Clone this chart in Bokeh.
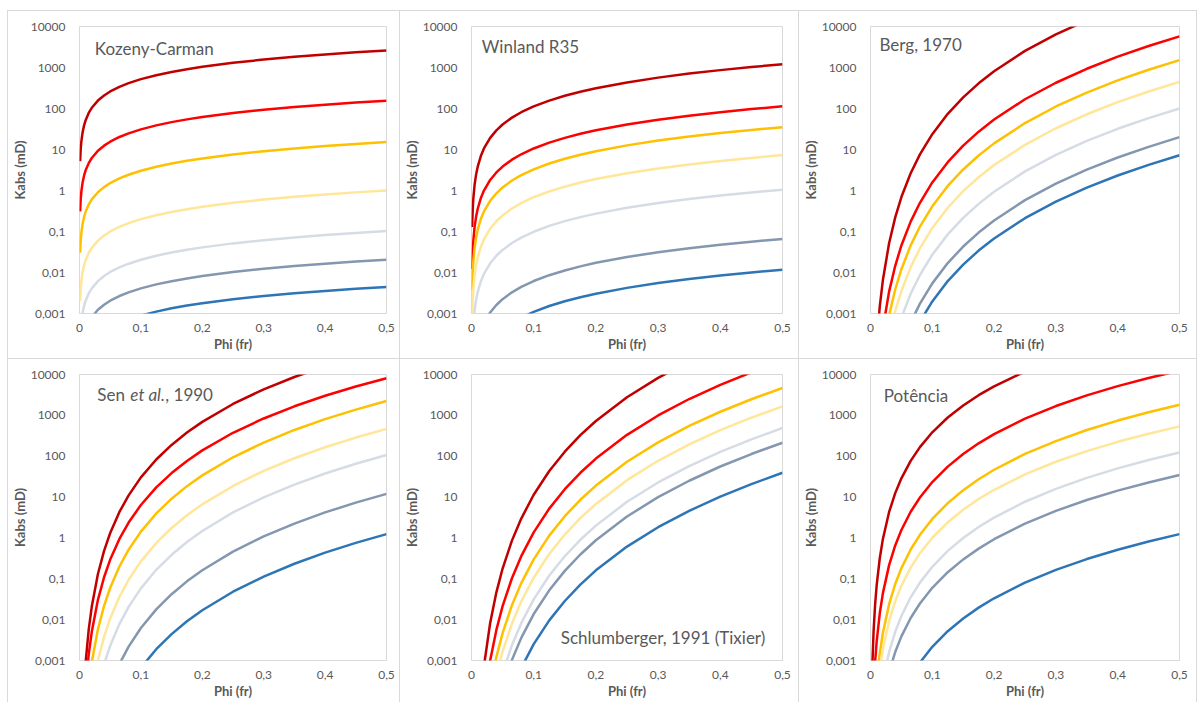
from bokeh.plotting import figure
from bokeh.models import Range1d, FixedTicker, Label
from bokeh.layouts import row, column
from bokeh.embed import file_html
from bokeh.resources import INLINE

# ---------------- data ----------------
PHI = [0.001, 0.002, 0.003, 0.005, 0.0075, 0.01, 0.015, 0.02, 0.03, 0.04, 0.05, 0.065,
       0.08, 0.1, 0.125, 0.15, 0.175, 0.2, 0.25, 0.3, 0.35, 0.4, 0.45, 0.5]

X_TICKS = [0, 0.1, 0.2, 0.3, 0.4, 0.5]
X_TICK_LABELS = ["0", "0,1", "0,2", "0,3", "0,4", "0,5"]
Y_TICKS = [0.001, 0.01, 0.1, 1, 10, 100, 1000, 10000]
Y_TICK_LABELS = ["0,001", "0,01", "0,1", "1", "10", "100", "1000", "10000"]

# Kozeny-Carman
kc1 = [5.2, 10.4, 15.6, 26, 39, 52, 78, 104, 156, 208, 260, 338, 416, 520, 650, 780, 910, 1040, 1300, 1560, 1820, 2080, 2340, 2600]
kc2 = [0.31, 0.62, 0.93, 1.55, 2.33, 3.1, 4.65, 6.2, 9.3, 12.4, 15.5, 20.2, 24.8, 31, 38.8, 46.5, 54.3, 62, 77.5, 93, 108.5, 124, 139.5, 155]
kc3 = [0.0303, 0.0606, 0.0909, 0.152, 0.227, 0.303, 0.455, 0.606, 0.909, 1.21, 1.52, 1.97, 2.42, 3.03, 3.79, 4.55, 5.3, 6.06, 7.58, 9.09, 10.6, 12.1, 13.6, 15.2]
kc4 = [0.002, 0.004, 0.006, 0.01, 0.015, 0.02, 0.03, 0.04, 0.06, 0.08, 0.1, 0.13, 0.16, 0.2, 0.25, 0.3, 0.35, 0.4, 0.5, 0.6, 0.7, 0.8, 0.9, 1.0]
kc5 = [0.000205, 0.00041, 0.000615, 0.00103, 0.00154, 0.00205, 0.00308, 0.0041, 0.00615, 0.0082, 0.0103, 0.0133, 0.0164, 0.0205, 0.0256, 0.0308, 0.0359, 0.041, 0.0513, 0.0615, 0.0718, 0.082, 0.0923, 0.1025]
kc6 = [4.1e-5, 8.2e-5, 1.23e-4, 2.05e-4, 3.08e-4, 4.1e-4, 6.15e-4, 8.2e-4, 0.00123, 0.00164, 0.00205, 0.00267, 0.00328, 0.0041, 0.00513, 0.00615, 0.00718, 0.0082, 0.0103, 0.0123, 0.0144, 0.0164, 0.0185, 0.0205]
kc7 = [8.9e-6, 1.78e-5, 2.67e-5, 4.45e-5, 6.68e-5, 8.9e-5, 1.34e-4, 1.78e-4, 2.67e-4, 3.56e-4, 4.45e-4, 5.79e-4, 7.12e-4, 8.9e-4, 0.00111, 0.00134, 0.00156, 0.00178, 0.00223, 0.00267, 0.00312, 0.00356, 0.00401, 0.00445]

# Winland R35
wl1 = [0.129, 0.358, 0.65, 1.38, 2.5, 3.81, 6.92, 10.6, 19.2, 29.3, 40.7, 59.9, 81.1, 113, 156, 204, 257, 312, 433, 566, 710, 863, 1026, 1200]
wl2 = [0.0122, 0.0337, 0.0612, 0.13, 0.235, 0.359, 0.652, 0.996, 1.81, 2.76, 3.83, 5.64, 7.64, 10.6, 14.7, 19.2, 24.2, 29.4, 40.8, 53.3, 66.9, 81.2, 96.6, 113]
wl3 = [0.00377, 0.0104, 0.019, 0.0402, 0.0729, 0.111, 0.202, 0.308, 0.56, 0.854, 1.19, 1.75, 2.37, 3.28, 4.55, 5.95, 7.48, 9.1, 12.6, 16.5, 20.7, 25.2, 29.9, 35]
wl4 = [7.85e-4, 0.00218, 0.00396, 0.00838, 0.0152, 0.0232, 0.0421, 0.0643, 0.117, 0.178, 0.247, 0.364, 0.493, 0.685, 0.949, 1.24, 1.56, 1.9, 2.64, 3.45, 4.32, 5.25, 6.24, 7.3]
wl5 = [1.13e-4, 3.13e-4, 5.69e-4, 0.00121, 0.00219, 0.00334, 0.00606, 0.00925, 0.0168, 0.0256, 0.0356, 0.0524, 0.071, 0.0985, 0.137, 0.179, 0.224, 0.273, 0.379, 0.496, 0.622, 0.755, 0.898, 1.05]
wl6 = [7.1e-6, 1.97e-5, 3.58e-5, 7.58e-5, 1.38e-4, 2.1e-4, 3.81e-4, 5.81e-4, 0.00106, 0.00161, 0.00224, 0.00329, 0.00446, 0.00619, 0.0086, 0.0112, 0.0141, 0.0172, 0.0238, 0.0312, 0.0391, 0.0475, 0.0564, 0.066]
wl7 = [1.26e-6, 3.49e-6, 6.34e-6, 1.34e-5, 2.44e-5, 3.72e-5, 6.75e-5, 1.03e-4, 1.87e-4, 2.85e-4, 3.97e-4, 5.84e-4, 7.91e-4, 0.0011, 0.00152, 0.00199, 0.0025, 0.00304, 0.00422, 0.00552, 0.00693, 0.00841, 0.01, 0.0117]

# Berg, 1970
bg1 = [1.5e-9, 5.1e-8, 4.1e-7, 5.5e-6, 4.3e-5, 1.88e-4, 1.49e-3, 6.46e-3, 0.051, 0.221, 0.692, 2.64, 7.59, 23.7, 74.1, 187, 411, 813, 2541, 6427, 14090, 27860, 50700, 87100]
bg2 = [9.9e-11, 3.4e-9, 2.7e-8, 3.6e-7, 2.9e-6, 1.24e-5, 9.8e-5, 4.27e-4, 3.37e-3, 0.0146, 0.0457, 0.174, 0.501, 1.57, 4.9, 12.4, 27.2, 53.7, 168, 425, 931, 1841, 3350, 5754]
bg3 = [2.6e-11, 8.9e-10, 7.0e-9, 9.5e-8, 7.6e-7, 3.3e-6, 2.6e-5, 1.12e-4, 8.9e-4, 3.85e-3, 0.012, 0.0458, 0.132, 0.412, 1.29, 3.26, 7.14, 14.1, 44.2, 112, 245, 484, 881, 1514]
bg4 = [7.7e-12, 2.6e-10, 2.1e-9, 2.8e-8, 2.2e-7, 9.7e-7, 7.6e-6, 3.3e-5, 2.62e-4, 1.14e-3, 3.55e-3, 0.0135, 0.0389, 0.122, 0.38, 0.962, 2.11, 4.17, 13.0, 33.0, 72.3, 143, 260, 447]
bg5 = [1.7e-12, 5.9e-11, 4.7e-10, 6.3e-9, 5.0e-8, 2.2e-7, 1.7e-6, 7.4e-6, 5.9e-5, 2.54e-4, 7.9e-4, 3.03e-3, 8.7e-3, 0.0272, 0.0851, 0.215, 0.472, 0.933, 2.92, 7.38, 16.2, 32.0, 58.2, 100]
bg6 = [3.4e-13, 1.2e-11, 9.3e-11, 1.26e-9, 1.0e-8, 4.3e-8, 3.4e-7, 1.48e-6, 1.17e-5, 5.07e-5, 1.58e-4, 6.04e-4, 1.74e-3, 5.43e-3, 0.017, 0.043, 0.0942, 0.186, 0.582, 1.47, 3.23, 6.38, 11.6, 20]
bg7 = [1.2e-13, 4.3e-12, 3.4e-11, 4.6e-10, 3.6e-9, 1.57e-8, 1.24e-7, 5.4e-7, 4.2e-6, 1.84e-5, 5.75e-5, 2.19e-4, 6.31e-4, 1.97e-3, 6.17e-3, 0.0156, 0.0342, 0.0676, 0.211, 0.535, 1.17, 2.32, 4.22, 7.24]

# Sen et al., 1990
sn1 = [2.8e-8, 6.3e-7, 4.0e-6, 4.0e-5, 2.49e-4, 9.1e-4, 5.7e-3, 0.0209, 0.131, 0.481, 1.32, 4.32, 11.0, 30.3, 83, 189, 379, 693, 1901, 4335, 8690, 15900, 27000, 43600]
sn2 = [8.4e-9, 1.83e-7, 1.11e-6, 1.07e-5, 6.5e-5, 2.32e-4, 1.41e-3, 5.05e-3, 0.0305, 0.109, 0.295, 0.946, 2.38, 6.4, 17.3, 38.7, 76.7, 139, 375, 839, 1667, 3013, 5082, 8128]
sn3 = [1.04e-9, 2.46e-8, 1.57e-7, 1.62e-6, 1.03e-5, 3.85e-5, 2.45e-4, 9.1e-4, 5.82e-3, 0.0217, 0.0603, 0.2, 0.515, 1.43, 3.97, 9.12, 18.5, 34, 94.2, 216, 439, 807, 1380, 2239]
sn4 = [1.4e-10, 3.5e-9, 2.3e-8, 2.45e-7, 1.61e-6, 6.1e-6, 4.0e-5, 1.52e-4, 1.0e-3, 3.8e-3, 0.0107, 0.0362, 0.0948, 0.267, 0.753, 1.75, 3.58, 6.65, 18.7, 43.7, 89.3, 166, 286, 468]
sn5 = [2.7e-11, 6.8e-10, 4.5e-9, 4.9e-8, 3.25e-7, 1.25e-6, 8.3e-6, 3.17e-5, 2.1e-4, 8.1e-4, 2.29e-3, 7.8e-3, 0.0206, 0.0583, 0.166, 0.387, 0.794, 1.48, 4.21, 9.84, 20.2, 37.8, 65.3, 107]
sn6 = [2.5e-12, 6.4e-11, 4.3e-10, 4.8e-9, 3.2e-8, 1.24e-7, 8.4e-7, 3.2e-6, 2.17e-5, 8.4e-5, 2.4e-4, 8.2e-4, 2.18e-3, 6.24e-3, 0.0178, 0.0419, 0.0865, 0.162, 0.462, 1.09, 2.24, 4.21, 7.31, 12.0]
sn7 = [2.9e-13, 7.4e-12, 4.9e-11, 5.4e-10, 3.6e-9, 1.39e-8, 9.2e-8, 3.5e-7, 2.37e-6, 9.1e-6, 2.59e-5, 8.9e-5, 2.33e-4, 6.64e-4, 1.89e-3, 4.42e-3, 0.0091, 0.017, 0.0483, 0.113, 0.233, 0.436, 0.755, 1.24]

# Schlumberger, 1991 (Tixier)
sc1 = [1.1e-11, 7.3e-10, 8.3e-9, 1.78e-7, 2.02e-6, 1.14e-5, 1.29e-4, 7.28e-4, 8.28e-3, 0.0466, 0.178, 0.859, 2.98, 11.4, 43.4, 129, 327, 728, 2780, 8280, 20900, 46600, 94200, 178000]
sc2 = [1.4e-12, 8.8e-11, 1.0e-9, 2.1e-8, 2.4e-7, 1.37e-6, 1.56e-5, 8.75e-5, 9.95e-4, 5.6e-3, 0.0214, 0.103, 0.358, 1.37, 5.22, 15.6, 39.3, 87.5, 334, 995, 2512, 5598, 11300, 21400]
sc3 = [3.0e-13, 1.9e-11, 2.2e-10, 4.7e-9, 5.3e-8, 3.0e-7, 3.4e-6, 1.91e-5, 2.18e-4, 1.22e-3, 4.68e-3, 0.0226, 0.0783, 0.299, 1.14, 3.4, 8.59, 19.1, 73.1, 218, 550, 1225, 2477, 4677]
sc4 = [1.1e-13, 6.8e-12, 7.7e-11, 1.66e-9, 1.89e-8, 1.06e-7, 1.21e-6, 6.8e-6, 7.7e-5, 4.35e-4, 1.66e-3, 8.0e-3, 0.0278, 0.106, 0.406, 1.21, 3.05, 6.79, 25.9, 77.3, 195, 435, 879, 1660]
sc5 = [3.1e-14, 2.0e-12, 2.3e-11, 4.9e-10, 5.6e-9, 3.1e-8, 3.6e-7, 2.0e-6, 2.28e-5, 1.28e-4, 4.9e-4, 2.37e-3, 8.2e-3, 0.0313, 0.12, 0.356, 0.9, 2.0, 7.66, 22.8, 57.5, 128, 259, 490]
sc6 = [1.4e-14, 8.8e-13, 1.0e-11, 2.1e-10, 2.4e-9, 1.37e-8, 1.56e-7, 8.7e-7, 9.95e-6, 5.6e-5, 2.14e-4, 1.03e-3, 3.58e-3, 0.0137, 0.0522, 0.156, 0.393, 0.875, 3.34, 9.95, 25.1, 56, 113, 214]
sc7 = [2.5e-15, 1.6e-13, 1.8e-12, 3.9e-11, 4.5e-10, 2.5e-9, 2.9e-8, 1.6e-7, 1.83e-6, 1.03e-5, 3.93e-5, 1.9e-4, 6.58e-4, 2.51e-3, 9.6e-3, 0.0286, 0.0721, 0.161, 0.614, 1.83, 4.61, 10.3, 20.8, 39.3]

# Potência
pt1 = [1.27e-5, 1.7e-4, 7.7e-4, 5.24e-3, 0.0238, 0.07, 0.318, 0.933, 4.26, 12.5, 28.8, 76.7, 167, 385, 887, 1750, 3119, 5129, 11830, 23400, 41600, 68500, 106000, 158000]
pt2 = [3.7e-7, 5.5e-6, 2.68e-5, 1.97e-4, 9.5e-4, 2.94e-3, 0.0143, 0.0439, 0.213, 0.655, 1.56, 4.36, 9.77, 23.3, 55.7, 113, 207, 348, 832, 1690, 3083, 5200, 8222, 12400]
pt3 = [2.9e-8, 4.7e-7, 2.36e-6, 1.82e-5, 9.2e-5, 2.91e-4, 1.47e-3, 4.66e-3, 0.0236, 0.0745, 0.182, 0.52, 1.19, 2.91, 7.11, 14.7, 27.3, 46.6, 114, 235, 437, 745, 1191, 1820]
pt4 = [1.6e-8, 2.4e-7, 1.16e-6, 8.5e-6, 4.13e-5, 1.27e-4, 6.17e-4, 1.9e-3, 9.2e-3, 0.0283, 0.0676, 0.188, 0.423, 1.01, 2.41, 4.9, 8.95, 15.1, 36, 73.1, 133, 225, 356, 537]
pt5 = [2.0e-9, 3.1e-8, 1.6e-7, 1.23e-6, 6.2e-6, 1.97e-5, 9.95e-5, 3.15e-4, 1.59e-3, 5.04e-3, 0.0123, 0.0352, 0.0805, 0.197, 0.481, 0.995, 1.85, 3.15, 7.69, 15.9, 29.5, 50.4, 80.5, 123]
pt6 = [7.6e-10, 1.17e-8, 5.8e-8, 4.4e-7, 2.16e-6, 6.7e-6, 3.34e-5, 1.04e-4, 5.16e-4, 1.61e-3, 3.89e-3, 0.011, 0.0249, 0.0601, 0.145, 0.298, 0.548, 0.929, 2.24, 4.6, 8.47, 14.4, 22.8, 34.7]
pt7 = [2.7e-11, 4.2e-10, 2.1e-9, 1.57e-8, 7.8e-8, 2.42e-7, 1.2e-6, 3.74e-6, 1.85e-5, 5.78e-5, 1.4e-4, 3.94e-4, 8.9e-4, 2.16e-3, 5.21e-3, 0.0107, 0.0197, 0.0333, 0.0805, 0.165, 0.304, 0.515, 0.818, 1.24]

COLORS = ["#C00000", "#FF0000", "#FFC000", "#FFE699", "#D6DCE5", "#8497B0", "#2E75B6"]
TEXT_COLOR = "#595959"
FONT = "Lato"


def build(series, pieces, tx, ty, width, height, left, right, top, bottom):
    p = figure(width=width, height=height,
               x_range=Range1d(0, 0.5), y_range=Range1d(0.001, 10000),
               y_axis_type="log", output_backend="svg", toolbar_location=None,
               min_border_left=left, min_border_right=right,
               min_border_top=top, min_border_bottom=bottom,
               background_fill_color="white", border_fill_color="white",
               styles={"outline": "1px solid #d9d9d9"})
    p.outline_line_color = "#d9d9d9"
    p.outline_line_width = 1
    p.grid.visible = False

    for ys, c in zip(series, COLORS):
        p.line(PHI, ys, line_color=c, line_width=2.5, line_join="round")

    for ax in (p.xaxis[0], p.yaxis[0]):
        ax.axis_line_color = None
        ax.major_tick_line_color = None
        ax.minor_tick_line_color = None
        ax.major_tick_out = 0
        ax.major_tick_in = 0
        ax.minor_tick_out = 0
        ax.minor_tick_in = 0
        ax.major_label_text_font = FONT
        ax.major_label_text_font_size = "12px"
        ax.major_label_text_color = TEXT_COLOR
        ax.axis_label_text_font = FONT
        ax.axis_label_text_font_size = "13px"
        ax.axis_label_text_font_style = "bold"
        ax.axis_label_text_color = TEXT_COLOR

    p.xaxis.ticker = FixedTicker(ticks=X_TICKS)
    p.xaxis.major_label_overrides = dict(zip(X_TICKS, X_TICK_LABELS))
    p.xaxis.axis_label = "Phi (fr)"
    p.xaxis.major_label_standoff = 10
    p.xaxis.axis_label_standoff = 1

    p.yaxis.ticker = FixedTicker(ticks=Y_TICKS)
    p.yaxis.major_label_overrides = dict(zip(Y_TICKS, Y_TICK_LABELS))
    p.yaxis.axis_label = "Kabs (mD)"
    p.yaxis.major_label_standoff = 14
    p.yaxis.axis_label_standoff = 0

    for txt, style, dx in pieces:
        p.add_layout(Label(x=tx, y=ty, x_offset=dx, text=txt, text_font=FONT,
                           text_font_size="17px", text_font_style=style,
                           text_color=TEXT_COLOR, text_baseline="middle",
                           text_align="left"))
    return p


p1 = build([kc1, kc2, kc3, kc4, kc5, kc6, kc7], [("Kozeny-Carman", "normal", 0)],
           0.025, 2900, 391, 347, 67, 13, 15, 45)
p2 = build([wl1, wl2, wl3, wl4, wl5, wl6, wl7], [("Winland R35", "normal", 0)],
           0.0166, 3240, 398, 347, 71, 16, 15, 45)
p3 = build([bg1, bg2, bg3, bg4, bg5, bg6, bg7], [("Berg, 1970", "normal", 0)],
           0.0145, 3550, 397, 347, 69, 17, 15, 45)
p4 = build([sn1, sn2, sn3, sn4, sn5, sn6, sn7],
           [("Sen", "normal", 0), ("et al.", "italic", 33), (", 1990", "normal", 68)],
           0.029, 3240, 391, 343, 67, 13, 15, 42)
p5 = build([sc1, sc2, sc3, sc4, sc5, sc6, sc7], [("Schlumberger, 1991 (Tixier)", "normal", 0)],
           0.1436, 0.0037, 398, 343, 71, 16, 15, 42)
p6 = build([pt1, pt2, pt3, pt4, pt5, pt6, pt7], [("Potência", "normal", 0)],
           0.0216, 2985, 397, 343, 69, 17, 15, 42)

layout = column(row(p1, p2, p3, spacing=1), row(p4, p5, p6, spacing=1),
                spacing=1, margin=(11, 0, 0, 8))

open("out.html", "w").write(file_html(layout, INLINE))
